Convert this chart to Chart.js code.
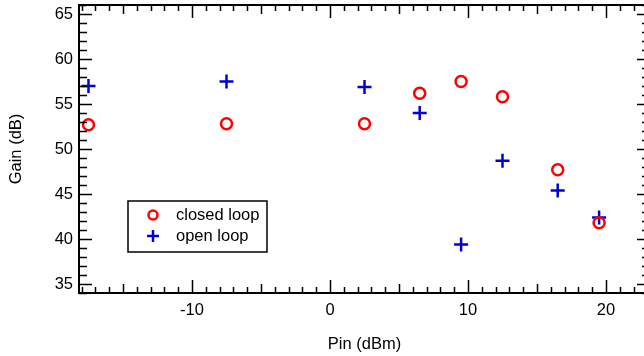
<!DOCTYPE html>
<html>
<head>
<meta charset="utf-8">
<script src="https://cdn.jsdelivr.net/npm/chart.js@4"></script>
<style>
  html, body { margin: 0; padding: 0; background: #fff; overflow: hidden; }
  #wrap { width: 644px; height: 356px; overflow: hidden; }
</style>
</head>
<body>
<div id="wrap"><canvas id="gainChart" width="660" height="356"></canvas></div>
<script>
// Data
const pinValues = [-17.5, -7.5, 2.5, 6.5, 9.5, 12.5, 16.5, 19.5];
const closedLoopGain = [52.7, 52.8, 52.8, 56.2, 57.5, 55.8, 47.7, 41.8];
const openLoopGain = [57.0, 57.5, 56.9, 54.0, 39.4, 48.7, 45.4, 42.4];
const xTickLabels = [-10, 0, 10, 20];
const yTickLabels = [35, 40, 45, 50, 55, 60, 65];

const FONT = '"Liberation Sans", Arial, sans-serif';
const RED = "#ff0000";
const BLUE = "#0000d8";

function toPoints(ys) {
    return pinValues.map((x, i) => ({ x: x, y: ys[i] }));
}

// Frame with inward ticks on all four sides, plus boxed legend
const framePlugin = {
    id: "frame",
    afterDraw(chart) {
        const ctx = chart.ctx;
        const area = chart.chartArea;
        const xs = chart.scales.x;
        const ys = chart.scales.y;
        ctx.save();
        ctx.strokeStyle = "#000";
        ctx.lineWidth = 2;
        ctx.strokeRect(area.left, area.top, area.right - area.left, area.bottom - area.top);

        ctx.lineWidth = 1.5;
        ctx.beginPath();
        for (let v = Math.ceil(xs.min); v <= Math.floor(xs.max); v++) {
            const px = Math.round(xs.getPixelForValue(v)) + 0.5;
            const len = v % 10 === 0 ? 13 : (v % 5 === 0 ? 9 : 6);
            ctx.moveTo(px, area.bottom);
            ctx.lineTo(px, area.bottom - len);
            ctx.moveTo(px, area.top);
            ctx.lineTo(px, area.top + len);
        }
        for (let v = Math.ceil(ys.min); v <= Math.floor(ys.max); v++) {
            const py = Math.round(ys.getPixelForValue(v)) + 0.5;
            const len = v % 5 === 0 ? 13 : 8;
            ctx.moveTo(area.left, py);
            ctx.lineTo(area.left + len, py);
            ctx.moveTo(area.right, py);
            ctx.lineTo(area.right - len, py);
        }
        ctx.stroke();

        // legend box
        const bx = 128, by = 201, bw = 139, bh = 51;
        ctx.lineWidth = 1.5;
        ctx.strokeRect(bx, by, bw, bh);
        ctx.font = "16.5px " + FONT;
        ctx.textBaseline = "middle";
        chart.data.datasets.forEach((ds, i) => {
            const cy = by + 14 + i * 21;
            ctx.fillStyle = "rgba(0,0,0,0)";
            ctx.strokeStyle = ds.borderColor;
            ctx.lineWidth = ds.borderWidth;
            Chart.helpers.drawPoint(ctx, {
                pointStyle: ds.pointStyle,
                radius: ds.pointStyle === "circle" ? 4.5 : 6,
                borderWidth: ds.borderWidth
            }, bx + 25, cy);
            ctx.fillStyle = "#000";
            ctx.fillText(ds.label, bx + 48, cy);
        });
        ctx.restore();
    }
};

new Chart(document.getElementById("gainChart"), {
    type: "scatter",
    data: {
        datasets: [
            {
                label: "closed loop",
                data: toPoints(closedLoopGain),
                pointStyle: "circle",
                pointRadius: 5.5,
                borderWidth: 2.5,
                borderColor: RED,
                backgroundColor: "rgba(0,0,0,0)"
            },
            {
                label: "open loop",
                data: toPoints(openLoopGain),
                pointStyle: "cross",
                pointRadius: 7,
                borderWidth: 2.5,
                borderColor: BLUE,
                backgroundColor: BLUE
            }
        ]
    },
    options: {
        responsive: false,
        animation: false,
        devicePixelRatio: 1,
        layout: { autoPadding: false, padding: { left: 0, top: 5, right: 10, bottom: 0 } },
        plugins: {
            legend: { display: false },
            tooltip: { enabled: false }
        },
        scales: {
            x: {
                type: "linear",
                min: -18.188,
                max: 23.188,
                grid: { display: false, drawTicks: false },
                border: { display: false },
                afterBuildTicks: (s) => { s.ticks = xTickLabels.map(v => ({ value: v })); },
                afterFit: (s) => { s.height = 63; s.paddingLeft = 0; s.paddingRight = 0; },
                ticks: {
                    padding: 8,
                    color: "#000",
                    font: { family: FONT, size: 16.5 },
                    maxRotation: 0
                },
                title: {
                    display: true,
                    text: "Pin (dBm)",
                    color: "#000",
                    font: { family: FONT, size: 16.5 },
                    padding: { top: 0, bottom: 2 }
                }
            },
            y: {
                type: "linear",
                min: 34,
                max: 66,
                grid: { display: false, drawTicks: false },
                border: { display: false },
                afterBuildTicks: (s) => { s.ticks = yTickLabels.map(v => ({ value: v })); },
                afterFit: (s) => { s.width = 79; s.paddingTop = 0; s.paddingBottom = 0; },
                ticks: {
                    padding: 6,
                    color: "#000",
                    font: { family: FONT, size: 16.5 }
                },
                title: {
                    display: true,
                    text: "Gain (dB)",
                    color: "#000",
                    font: { family: FONT, size: 16.5 },
                    padding: { top: 7, bottom: 0 }
                }
            }
        }
    },
    plugins: [framePlugin]
});
</script>
</body>
</html>
